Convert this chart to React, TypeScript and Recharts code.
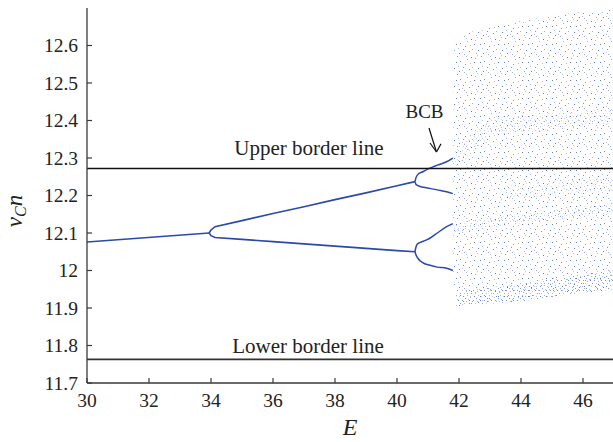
import {
  ComposedChart,
  Line,
  Area,
  XAxis,
  YAxis,
  ReferenceLine,
  ReferenceDot,
} from "recharts";

const X_TICKS = [30, 32, 34, 36, 38, 40, 42, 44, 46];
const Y_TICKS = [11.7, 11.8, 11.9, 12, 12.1, 12.2, 12.3, 12.4, 12.5, 12.6];

const UPPER_BORDER = 12.272;
const LOWER_BORDER = 11.763;

// period-1 branch
const p1E = [30, 33.94];
const p1V = [12.076, 12.1];

// period-2 branches
const p2E = [33.94, 34.0, 34.13, 35, 36, 37, 38, 39, 40, 40.58];
const p2Upper = [12.1, 12.108, 12.117, 12.133, 12.152, 12.17, 12.189, 12.207, 12.226, 12.237];
const p2Lower = [12.1, 12.093, 12.088, 12.083, 12.077, 12.071, 12.065, 12.059, 12.053, 12.05];

// period-4 branches
const p4E = [40.58, 40.61, 40.66, 40.85, 41.06, 41.3, 41.6, 41.8];
const p4A = [12.237, 12.247, 12.255, 12.264, 12.273, 12.281, 12.29, 12.3];
const p4B = [12.237, 12.23, 12.227, 12.222, 12.219, 12.215, 12.21, 12.205];
const p4C = [12.05, 12.062, 12.071, 12.078, 12.086, 12.1, 12.117, 12.125];
const p4D = [12.05, 12.042, 12.034, 12.02, 12.014, 12.009, 12.006, 12.0];

// chaotic cloud (envelope)
const chaosE = [41.8, 41.85, 42, 42.5, 43, 44, 45, 46, 47];
const chaosLow = [11.99, 11.96, 11.905, 11.91, 11.912, 11.918, 11.93, 11.94, 11.95];
const chaosHigh = [12.31, 12.6, 12.62, 12.64, 12.65, 12.665, 12.68, 12.69, 12.7];

// denser bands inside the cloud
const coreBandE = [41.8, 42, 44, 47];
const coreBandLow = [11.99, 11.93, 11.94, 11.97];
const coreBandHigh = [12.31, 12.45, 12.47, 12.5];

const bottomBandE = [41.9, 42.5, 43, 44, 45, 46, 47];
const bottomBandLow = [11.905, 11.91, 11.912, 11.918, 11.93, 11.94, 11.95];
const bottomBandHigh = [11.945, 11.95, 11.955, 11.965, 11.978, 11.99, 12.0];

const midBandE = [41.85, 43, 44, 45, 46, 47];
const midBandLow = [12.1, 12.115, 12.125, 12.135, 12.145, 12.155];
const midBandHigh = [12.13, 12.14, 12.15, 12.16, 12.17, 12.18];

const upperBandE = [41.85, 43, 47];
const upperBandLow = [12.27, 12.36, 12.39];
const upperBandHigh = [12.32, 12.41, 12.43];

const rightBandE = [43.5, 47];
const rightBandLow = [12.19, 12.21];
const rightBandHigh = [12.23, 12.25];

const FONT = "'Liberation Serif', 'Times New Roman', serif";
const INK = "#222";
const AXIS = "#3a3a3a";
const BRANCH = "#2b4aa6";

// dot positions for the stipple fills (style only)
const SPARSE_DOTS = [
  [1, 2], [8, 0], [15, 3], [21, 1], [4, 7], [11, 5], [18, 8], [2, 12], [9, 10], [16, 13],
  [22, 14], [6, 16], [13, 15], [20, 17], [0, 8], [14, 9], [7, 13], [19, 4], [3, 17], [10, 2],
];
const DENSE_DOTS = [
  [0, 0], [4, 1], [7, 0], [2, 3], [9, 3], [5, 5], [1, 6], [8, 6], [3, 8], [6, 9],
];
const DOT_COLORS = ["#7890d8", "#9aace4", "#5f7dcf", "#b0bdea"];

const toLine = (es: number[], vs: number[]) => es.map((E, i) => ({ E, v: vs[i] }));
const toBand = (es: number[], lo: number[], hi: number[]) =>
  es.map((E, i) => ({ E, r: [lo[i], hi[i]] }));

function LeftTick({ x, y, payload }: any) {
  return (
    <g>
      <line x1={x + 9} x2={x + 14} y1={y} y2={y} stroke={AXIS} strokeWidth={1.2} />
      <text x={x} y={y} dy="0.35em" textAnchor="end" fontFamily={FONT} fontSize={19.5} fill={INK}>
        {payload.value}
      </text>
    </g>
  );
}

function BottomTick({ x, y, payload }: any) {
  return (
    <g>
      <line x1={x} x2={x} y1={y - 10} y2={y - 15} stroke={AXIS} strokeWidth={1.2} />
      <text x={x} y={y} dy="0.71em" textAnchor="middle" fontFamily={FONT} fontSize={19.5} fill={INK}>
        {payload.value}
      </text>
    </g>
  );
}

function TopTick({ x, y }: any) {
  return <line x1={x} x2={x} y1={y} y2={y + 5} stroke={AXIS} strokeWidth={1.2} />;
}

function RightTick({ x, y }: any) {
  return <line x1={x - 5} x2={x} y1={y} y2={y} stroke={AXIS} strokeWidth={1.2} />;
}

function YTitle() {
  return (
    <text
      x={22}
      y={211}
      transform="rotate(-90, 22, 211)"
      textAnchor="middle"
      fontFamily={FONT}
      fontStyle="italic"
      fontSize={23}
      fill={INK}
    >
      <tspan>v</tspan>
      <tspan fontSize={16} dy={4}>C</tspan>
      <tspan dy={-4}>n</tspan>
    </text>
  );
}

function XTitle() {
  return (
    <text x={350} y={435} textAnchor="middle" fontFamily={FONT} fontStyle="italic" fontSize={24} fill={INK}>
      E
    </text>
  );
}

const textLabel = (value: string, size: number) => ({
  value,
  position: "center" as const,
  fontFamily: FONT,
  fontSize: size,
  fill: INK,
});

function Stipple({ id, w, h, dots }: { id: string; w: number; h: number; dots: number[][] }) {
  return (
    <pattern id={id} width={w} height={h} patternUnits="userSpaceOnUse">
      {dots.map(([dx, dy], i) => (
        <rect key={i} x={dx} y={dy} width={1} height={1} fill={DOT_COLORS[i % DOT_COLORS.length]} />
      ))}
    </pattern>
  );
}

export default function App() {
  return (
    <div style={{ position: "absolute", left: 0, top: 0, background: "#fff" }}>
      <ComposedChart width={620} height={442} margin={{ top: 8, right: 6, bottom: 0, left: 0 }}>
        <defs>
          <Stipple id="speckle" w={24} h={18} dots={SPARSE_DOTS} />
          <Stipple id="speckleDense" w={11} h={10} dots={DENSE_DOTS} />
        </defs>

        <XAxis
          dataKey="E"
          type="number"
          domain={[30, 47]}
          ticks={X_TICKS}
          allowDataOverflow
          height={59}
          tickSize={0}
          tickMargin={10}
          tickLine={false}
          tick={<BottomTick />}
          axisLine={{ stroke: AXIS, strokeWidth: 1.3 }}
          label={<XTitle />}
        />
        <XAxis
          xAxisId="top"
          orientation="top"
          dataKey="E"
          type="number"
          domain={[30, 47]}
          ticks={X_TICKS}
          allowDataOverflow
          height={0}
          tickSize={0}
          tickMargin={0}
          tickLine={false}
          tick={<TopTick />}
          axisLine={{ stroke: AXIS, strokeWidth: 1.3 }}
        />
        <YAxis
          type="number"
          domain={[11.7, 12.7]}
          ticks={Y_TICKS}
          allowDataOverflow
          width={87}
          tickSize={0}
          tickMargin={9}
          tickLine={false}
          tick={<LeftTick />}
          axisLine={{ stroke: AXIS, strokeWidth: 1.3 }}
          label={<YTitle />}
        />
        <YAxis
          yAxisId="right"
          orientation="right"
          type="number"
          domain={[11.7, 12.7]}
          ticks={Y_TICKS}
          allowDataOverflow
          width={0}
          tickSize={0}
          tickMargin={0}
          tickLine={false}
          tick={<RightTick />}
          axisLine={{ stroke: AXIS, strokeWidth: 1.3 }}
        />

        <Area data={toBand(chaosE, chaosLow, chaosHigh)} dataKey="r" type="linear" stroke="none"
          fill="url(#speckle)" fillOpacity={1} isAnimationActive={false} />
        <Area data={toBand(coreBandE, coreBandLow, coreBandHigh)} dataKey="r" type="linear" stroke="none"
          fill="url(#speckle)" fillOpacity={0.6} isAnimationActive={false} />
        <Area data={toBand(bottomBandE, bottomBandLow, bottomBandHigh)} dataKey="r" type="linear" stroke="none"
          fill="url(#speckleDense)" fillOpacity={0.9} isAnimationActive={false} />
        <Area data={toBand(midBandE, midBandLow, midBandHigh)} dataKey="r" type="linear" stroke="none"
          fill="url(#speckleDense)" fillOpacity={0.5} isAnimationActive={false} />
        <Area data={toBand(upperBandE, upperBandLow, upperBandHigh)} dataKey="r" type="linear" stroke="none"
          fill="url(#speckleDense)" fillOpacity={0.4} isAnimationActive={false} />
        <Area data={toBand(rightBandE, rightBandLow, rightBandHigh)} dataKey="r" type="linear" stroke="none"
          fill="url(#speckleDense)" fillOpacity={0.35} isAnimationActive={false} />

        <Line data={toLine(p1E, p1V)} dataKey="v" stroke={BRANCH} strokeWidth={1.6} dot={false} isAnimationActive={false} />
        <Line data={toLine(p2E, p2Upper)} dataKey="v" stroke={BRANCH} strokeWidth={1.6} dot={false} isAnimationActive={false} />
        <Line data={toLine(p2E, p2Lower)} dataKey="v" stroke={BRANCH} strokeWidth={1.6} dot={false} isAnimationActive={false} />
        <Line data={toLine(p4E, p4A)} dataKey="v" type="monotone" stroke={BRANCH} strokeWidth={1.5} dot={false} isAnimationActive={false} />
        <Line data={toLine(p4E, p4B)} dataKey="v" type="monotone" stroke={BRANCH} strokeWidth={1.5} dot={false} isAnimationActive={false} />
        <Line data={toLine(p4E, p4C)} dataKey="v" type="monotone" stroke={BRANCH} strokeWidth={1.5} dot={false} isAnimationActive={false} />
        <Line data={toLine(p4E, p4D)} dataKey="v" type="monotone" stroke={BRANCH} strokeWidth={1.5} dot={false} isAnimationActive={false} />

        <ReferenceLine y={UPPER_BORDER} stroke="#111" strokeWidth={1.5} />
        <ReferenceLine y={LOWER_BORDER} stroke="#333" strokeWidth={1.8} />

        <ReferenceDot x={37.16} y={12.327} r={0} stroke="none" label={textLabel("Upper border line", 21)} />
        <ReferenceDot x={37.13} y={11.8} r={0} stroke="none" label={textLabel("Lower border line", 21)} />
        <ReferenceDot x={40.887} y={12.424} r={0} stroke="none" label={textLabel("BCB", 19)} />

        {/* BCB arrow */}
        <ReferenceLine segment={[{ x: 41.032, y: 12.38 }, { x: 41.274, y: 12.316 }]} stroke="#111" strokeWidth={1.2} />
        <ReferenceLine segment={[{ x: 41.065, y: 12.34 }, { x: 41.274, y: 12.316 }]} stroke="#111" strokeWidth={1.2} />
        <ReferenceLine segment={[{ x: 41.419, y: 12.3376 }, { x: 41.274, y: 12.316 }]} stroke="#111" strokeWidth={1.2} />
      </ComposedChart>
    </div>
  );
}
